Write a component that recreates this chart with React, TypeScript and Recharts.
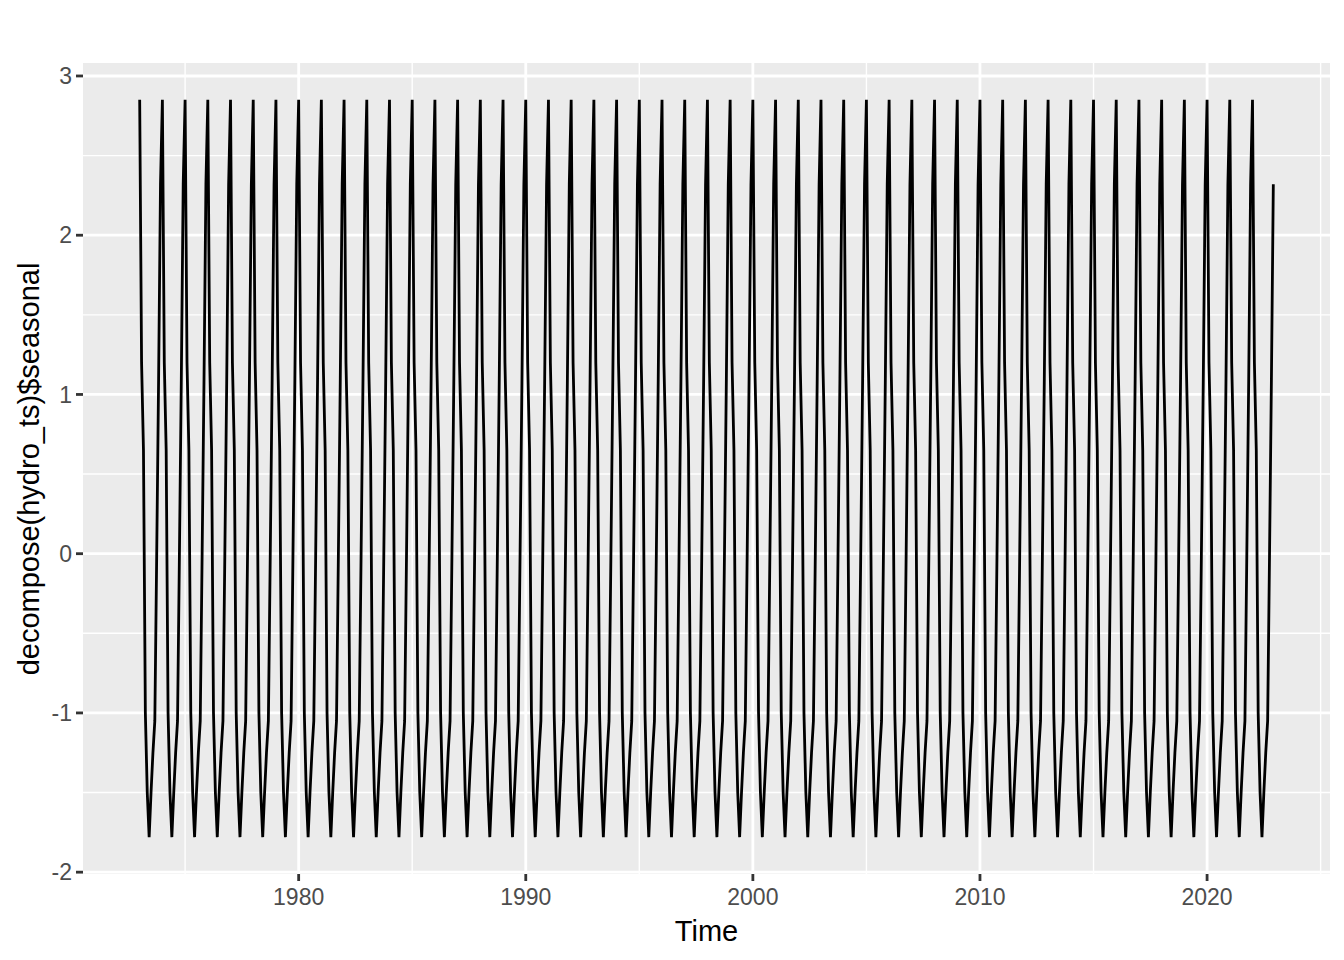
import React from 'react';
import { LineChart, Line, XAxis, YAxis, CartesianGrid, Label } from 'recharts';

// seasonal component, one value per month (Jan..Dec), repeated every year
const MONTHS = ['Jan', 'Feb', 'Mar', 'Apr', 'May', 'Jun', 'Jul', 'Aug', 'Sep', 'Oct', 'Nov', 'Dec'];
const SEASONAL = [2.85, 1.2, 0.65, -1.0, -1.5, -1.78, -1.5, -1.25, -1.05, 0.0, 1.1, 2.32];
const FIRST_YEAR = 1973;
const LAST_YEAR = 2022;

const X_TICKS = [1980, 1990, 2000, 2010, 2020];
const X_MINOR = [1975, 1985, 1995, 2005, 2015, 2025];
const Y_TICKS = [-2, -1, 0, 1, 2, 3];
const Y_MINOR = [-1.5, -0.5, 0.5, 1.5, 2.5];

const YEARS = Array.from({ length: LAST_YEAR - FIRST_YEAR + 1 }, (_, i) => FIRST_YEAR + i);
const data = YEARS.flatMap((year) =>
    MONTHS.map((_, m) => ({ time: year + m / 12, seasonal: SEASONAL[m] }))
);

// ggplot-style 5% expansion
const tMin = FIRST_YEAR;
const tMax = LAST_YEAR + 11 / 12;
const xPad = (tMax - tMin) * 0.05;
const vMin = Math.min(...SEASONAL);
const vMax = Math.max(...SEASONAL);
const yPad = (vMax - vMin) * 0.05;

const FONT = '"Liberation Sans", Arial, Helvetica, sans-serif';
const tickStyle = { fill: '#4D4D4D', fontSize: 23, fontFamily: FONT };

const App: React.FC = () => {
    return (
        <div style={{ position: 'absolute', left: 0, top: 0, width: 1344, height: 960, background: '#FFFFFF' }}>
            <LineChart width={1344} height={960} data={data} margin={{ top: 63, right: 14, bottom: 0, left: 0 }}>
                <CartesianGrid
                    fill="#EBEBEB"
                    stroke="#FFFFFF"
                    strokeWidth={1.4}
                    horizontalValues={Y_MINOR}
                    verticalValues={X_MINOR}
                />
                <CartesianGrid
                    stroke="#FFFFFF"
                    strokeWidth={2.8}
                    horizontalValues={Y_TICKS}
                    verticalValues={X_TICKS}
                />
                <XAxis
                    dataKey="time"
                    type="number"
                    domain={[tMin - xPad, tMax + xPad]}
                    ticks={X_TICKS}
                    allowDataOverflow
                    axisLine={false}
                    tickLine={{ stroke: '#333333', strokeWidth: 2.8 }}
                    tickSize={7}
                    tickMargin={8}
                    tick={tickStyle}
                    height={86}
                >
                    <Label
                        value="Time"
                        position="insideBottom"
                        offset={19}
                        style={{ fill: '#000000', fontSize: 29, fontFamily: FONT }}
                    />
                </XAxis>
                <YAxis
                    type="number"
                    domain={[vMin - yPad, vMax + yPad]}
                    ticks={Y_TICKS}
                    allowDataOverflow
                    axisLine={false}
                    tickLine={{ stroke: '#333333', strokeWidth: 2.8 }}
                    tickSize={7}
                    tickMargin={4}
                    tick={tickStyle}
                    width={83}
                >
                    <Label
                        content={() => (
                            <text
                                x={29}
                                y={469}
                                transform="rotate(-90 29 469)"
                                textAnchor="middle"
                                dominantBaseline="central"
                                style={{ fill: '#000000', fontSize: 29, fontFamily: FONT }}
                            >
                                decompose(hydro_ts)$seasonal
                            </text>
                        )}
                    />
                </YAxis>
                <Line
                    type="linear"
                    dataKey="seasonal"
                    stroke="#000000"
                    strokeWidth={2.8}
                    dot={false}
                    isAnimationActive={false}
                />
            </LineChart>
        </div>
    );
};

export default App;
